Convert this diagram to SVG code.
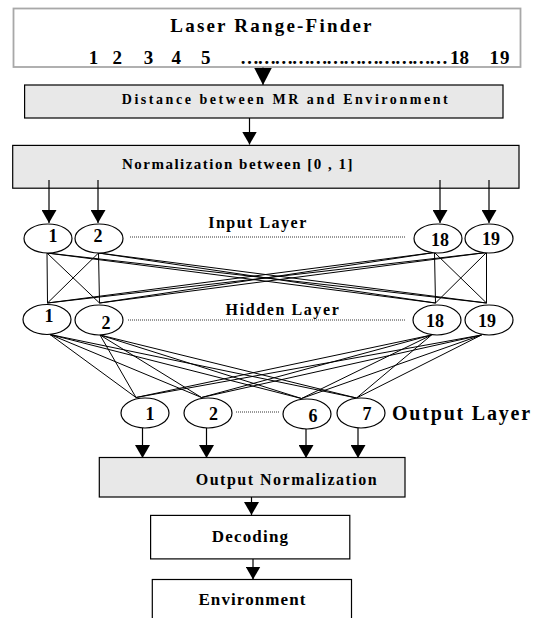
<svg xmlns="http://www.w3.org/2000/svg" width="534" height="618" viewBox="0 0 534 618">
<style>
text{font-family:"Liberation Serif","Times New Roman",serif;font-weight:bold;fill:#000}
.box{fill:#fff;stroke:#000;stroke-width:1.2}
.gbox{fill:#e8e8e8;stroke:#000;stroke-width:1.2}
.node{fill:#fff;stroke:#000;stroke-width:1.2}
.lbl{font-size:18px;text-anchor:middle}
.ln{stroke:#000;stroke-width:1;fill:none}
.arr{stroke:#000;stroke-width:1.2;fill:none;marker-end:url(#ah)}
.dot{stroke:#333;stroke-width:1;stroke-dasharray:1 1;fill:none}
.mid{text-anchor:middle}
</style>
<defs>
<marker id="ah" markerUnits="userSpaceOnUse" markerWidth="13" markerHeight="15" refX="13" refY="7.5" orient="auto"><path d="M0,0 L13,7.5 L0,15 z" fill="#000"/></marker>
<marker id="ahL" markerUnits="userSpaceOnUse" markerWidth="18" markerHeight="18" refX="17.5" refY="9" orient="auto"><path d="M0,0 L17.5,9 L0,18 z" fill="#000"/></marker>
</defs>
<rect width="534" height="618" fill="#fff"/>

<g id="laser">
<rect x="13.5" y="8.5" width="507" height="58.5" fill="#fff" stroke="#a8a8a8" stroke-width="1.8"/>
<text x="272" y="31.5" class="mid" style="font-size:19px;letter-spacing:2.2px">Laser Range-Finder</text>
<g style="font-size:19px" class="mid">
<text x="93.6" y="64">1</text><text x="117.3" y="64">2</text><text x="148.4" y="64">3</text><text x="176.2" y="64">4</text><text x="205.7" y="64">5</text>
<text x="459.5" y="64">18</text><text x="500" y="64" style="letter-spacing:1px">19</text>
</g>
<text x="240" y="64" style="font-size:19px" textLength="208" lengthAdjust="spacing">………………………………</text>
</g>

<g id="distance">
<rect class="gbox" x="24.6" y="85" width="478.4" height="33"/>
<text x="286" y="104" class="mid" style="font-size:14px;letter-spacing:2.55px">Distance between MR and Environment</text>
</g>

<g id="normalization">
<rect class="gbox" x="12.7" y="145.4" width="506.3" height="42.8"/>
<text x="238" y="168.5" class="mid" style="font-size:15px;letter-spacing:1.5px">Normalization between [0 , 1]</text>
</g>

<g id="connectors">
<line x1="263" y1="67.5" x2="263" y2="85" stroke="#000" stroke-width="1" marker-end="url(#ahL)"/>
<line class="arr" x1="249.5" y1="118" x2="249.5" y2="144.5"/>
<line class="arr" x1="49" y1="180" x2="49" y2="223"/>
<line class="arr" x1="98" y1="180" x2="98" y2="223"/>
<line class="arr" x1="440" y1="180" x2="440" y2="223"/>
<line class="arr" x1="489" y1="180" x2="489" y2="223"/>
<!-- input to hidden -->
<g class="ln">
<line x1="47" y1="253" x2="47.5" y2="303"/>
<line x1="47" y1="253" x2="99.5" y2="303"/>
<line x1="47" y1="253" x2="435.5" y2="303"/>
<line x1="47" y1="253" x2="486.5" y2="303"/>
<line x1="98.5" y1="253" x2="47.5" y2="303"/>
<line x1="98.5" y1="253" x2="99.5" y2="303"/>
<line x1="98.5" y1="253" x2="435.5" y2="303"/>
<line x1="98.5" y1="253" x2="486.5" y2="303"/>
<line x1="434.5" y1="252.5" x2="47.5" y2="303"/>
<line x1="434.5" y1="252.5" x2="99.5" y2="303"/>
<line x1="434.5" y1="252.5" x2="435.5" y2="303"/>
<line x1="434.5" y1="252.5" x2="486.5" y2="303"/>
<line x1="486.5" y1="252.5" x2="47.5" y2="303"/>
<line x1="486.5" y1="252.5" x2="99.5" y2="303"/>
<line x1="486.5" y1="252.5" x2="435.5" y2="303"/>
<line x1="486.5" y1="252.5" x2="486.5" y2="303"/>
</g>
<!-- hidden to output -->
<g class="ln">
<line x1="50" y1="334.5" x2="136" y2="397.5"/>
<line x1="50" y1="334.5" x2="201.5" y2="397.5"/>
<line x1="50" y1="334.5" x2="301.5" y2="398.5"/>
<line x1="50" y1="334.5" x2="356.5" y2="398"/>
<line x1="100" y1="335" x2="136" y2="397.5"/>
<line x1="100" y1="335" x2="201.5" y2="397.5"/>
<line x1="100" y1="335" x2="301.5" y2="398.5"/>
<line x1="100" y1="335" x2="356.5" y2="398"/>
<line x1="431.5" y1="335" x2="136" y2="397.5"/>
<line x1="431.5" y1="335" x2="201.5" y2="397.5"/>
<line x1="431.5" y1="335" x2="301.5" y2="398.5"/>
<line x1="431.5" y1="335" x2="356.5" y2="398"/>
<line x1="481.5" y1="335" x2="136" y2="397.5"/>
<line x1="481.5" y1="335" x2="201.5" y2="397.5"/>
<line x1="481.5" y1="335" x2="301.5" y2="398.5"/>
<line x1="481.5" y1="335" x2="356.5" y2="398"/>
</g>
<line class="arr" x1="142.5" y1="428" x2="142.5" y2="458"/>
<line class="arr" x1="206.5" y1="428" x2="206.5" y2="458"/>
<line class="arr" x1="306" y1="429" x2="306" y2="458"/>
<line class="arr" x1="358" y1="428" x2="358" y2="458"/>
<line class="arr" x1="251.5" y1="497" x2="251.5" y2="515"/>
<line class="arr" x1="253" y1="559" x2="253" y2="579.5"/>
<line class="dot" x1="130" y1="237" x2="406" y2="237"/>
<line class="dot" x1="128" y1="320" x2="405" y2="320"/>
<line class="dot" x1="236" y1="412" x2="280" y2="412"/>
</g>

<text x="258" y="227.5" class="mid" style="font-size:16px;letter-spacing:1.5px">Input Layer</text>
<g id="in1"><ellipse class="node" cx="48" cy="238.5" rx="24" ry="14.5"/><text class="lbl" x="53" y="242">1</text></g>
<g id="in2"><ellipse class="node" cx="99" cy="238.5" rx="24" ry="14.5"/><text class="lbl" x="98" y="242">2</text></g>
<g id="in18"><ellipse class="node" cx="438" cy="238.5" rx="24" ry="14.5"/><text class="lbl" x="440" y="245.5">18</text></g>
<g id="in19"><ellipse class="node" cx="489" cy="238.5" rx="24" ry="14.5"/><text class="lbl" x="491" y="244.5">19</text></g>

<text x="283" y="314.5" class="mid" style="font-size:16px;letter-spacing:1.6px">Hidden Layer</text>
<g id="h1"><ellipse class="node" cx="47" cy="319.5" rx="24" ry="15"/><text class="lbl" x="49" y="322">1</text></g>
<g id="h2"><ellipse class="node" cx="99" cy="320" rx="24" ry="15"/><text class="lbl" x="106" y="328.5">2</text></g>
<g id="h18"><ellipse class="node" cx="437" cy="320" rx="24" ry="15"/><text class="lbl" x="435" y="326.5">18</text></g>
<g id="h19"><ellipse class="node" cx="489" cy="320" rx="24" ry="15"/><text class="lbl" x="487" y="326.5">19</text></g>

<g id="o1"><ellipse class="node" cx="145" cy="413" rx="24" ry="15"/><text class="lbl" x="150" y="420">1</text></g>
<g id="o2"><ellipse class="node" cx="208" cy="413" rx="24" ry="15"/><text class="lbl" x="213.5" y="420">2</text></g>
<g id="o6"><ellipse class="node" cx="307" cy="414" rx="24" ry="15"/><text class="lbl" x="313" y="422">6</text></g>
<g id="o7"><ellipse class="node" cx="361" cy="413" rx="24" ry="15"/><text class="lbl" x="367" y="419.5">7</text></g>
<text x="392" y="420" style="font-size:20px;letter-spacing:1.8px">Output Layer</text>

<g id="outnorm">
<rect class="gbox" x="99.3" y="457.5" width="305.7" height="39.5"/>
<text x="287" y="484.5" class="mid" style="font-size:16px;letter-spacing:1.5px">Output Normalization</text>
</g>
<g id="decoding">
<rect class="box" x="150.6" y="515.4" width="199.2" height="43.5"/>
<text x="250.5" y="542" class="mid" style="font-size:17px;letter-spacing:1.2px">Decoding</text>
</g>
<g id="environment">
<rect class="box" x="152.3" y="579.5" width="199.2" height="50"/>
<text x="252.5" y="605" class="mid" style="font-size:17px;letter-spacing:1.1px">Environment</text>
</g>
</svg>
